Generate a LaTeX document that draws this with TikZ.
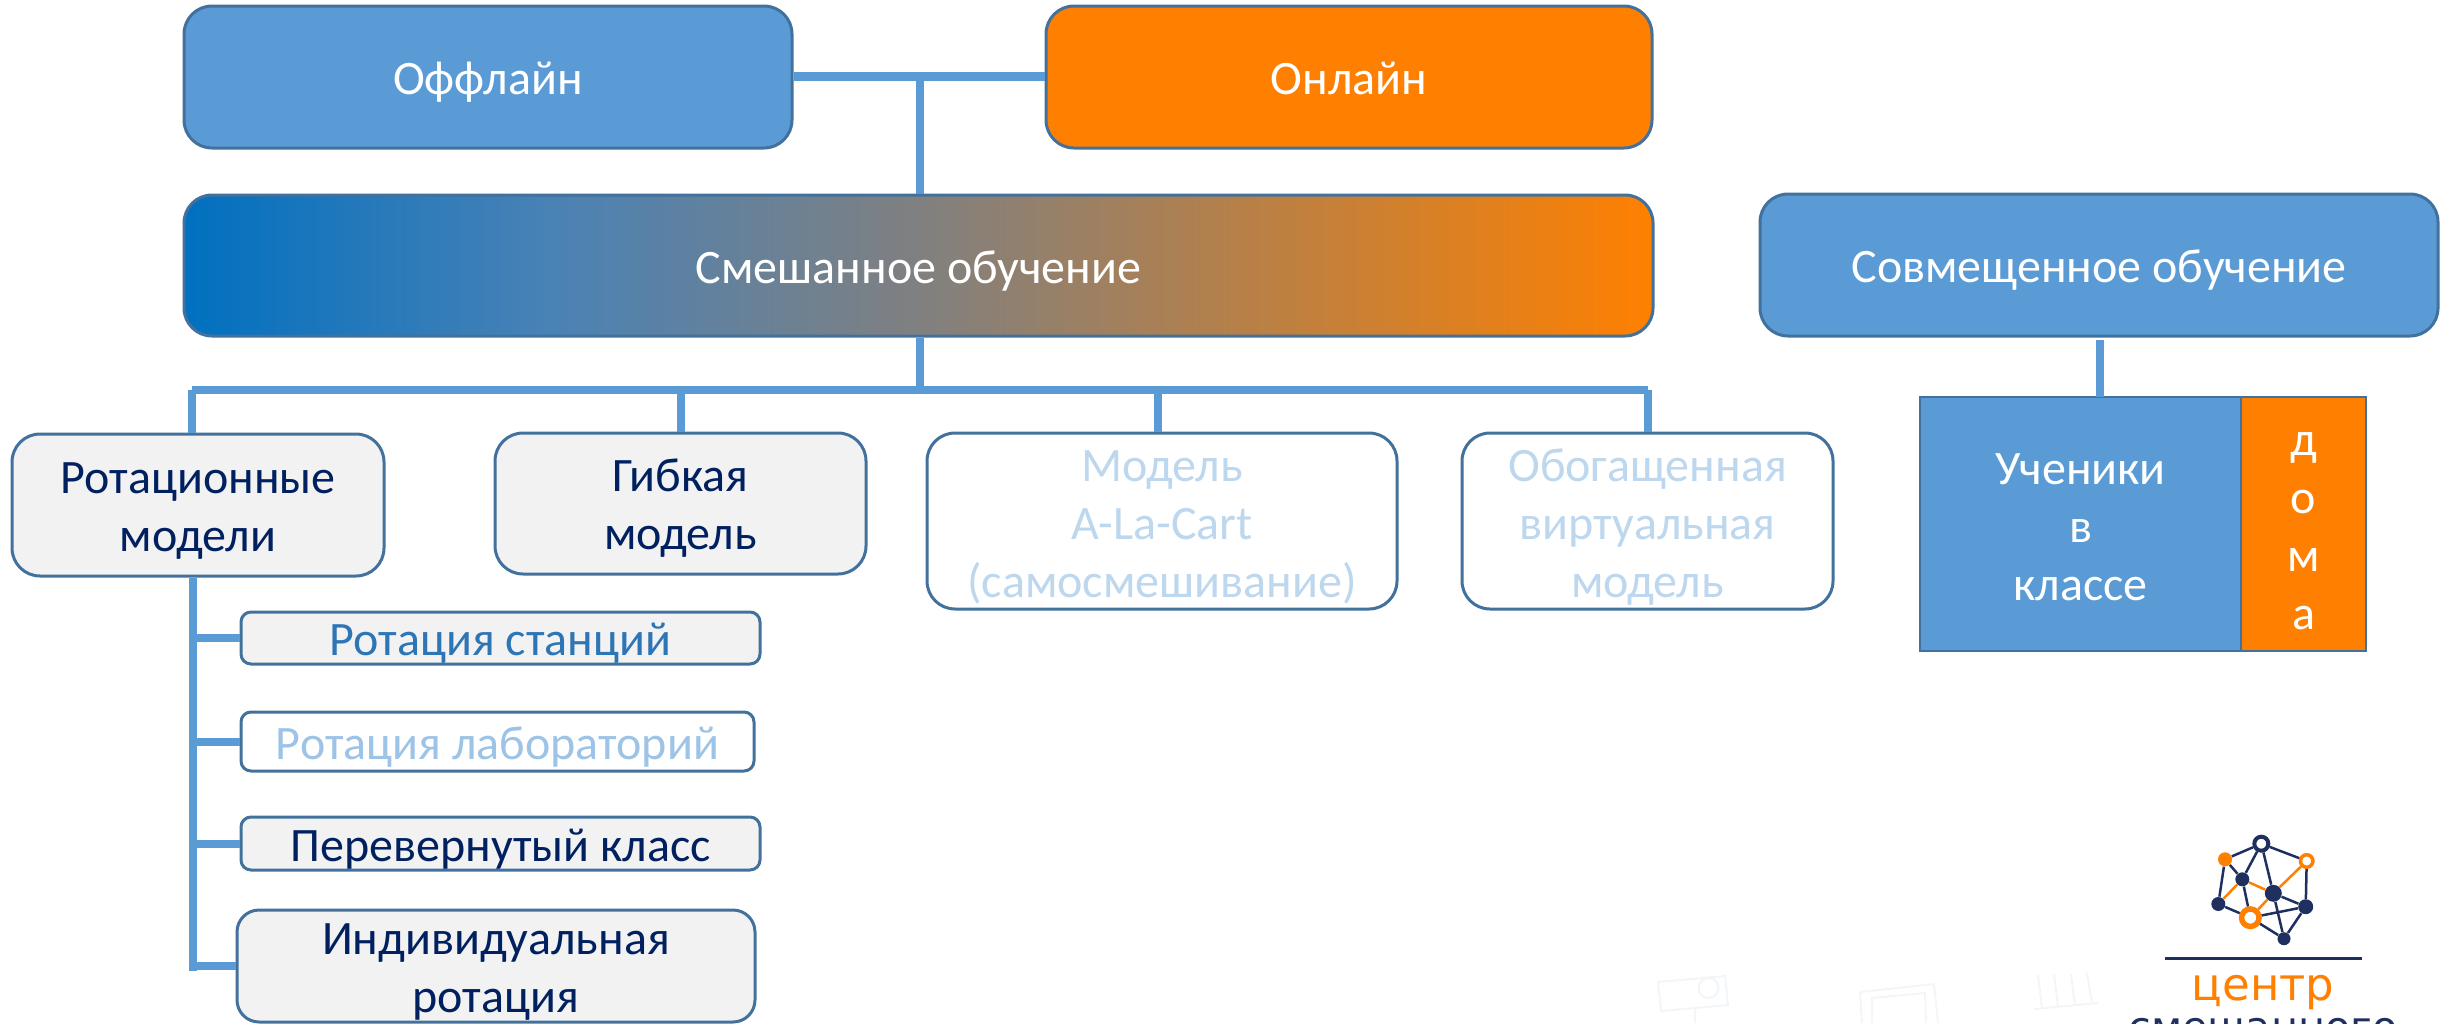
\documentclass[tikz,border=0pt]{standalone}
\usepackage{fontspec}
\setmainfont{Carlito}
\newfontfamily\logofont{DejaVu Sans}
\usetikzlibrary{positioning}
\definecolor{boxblue}{HTML}{5B9BD5}
\definecolor{boxedge}{HTML}{41719C}
\definecolor{boxorange}{HTML}{FF8000}
\definecolor{gradblue}{HTML}{0070C0}
\definecolor{gradone}{HTML}{4A82B5}
\definecolor{gradtwo}{HTML}{808080}
\definecolor{gradthree}{HTML}{BE8040}
\definecolor{boxgray}{HTML}{F2F2F2}
\definecolor{textmid}{HTML}{2E75B6}
\definecolor{textpale}{HTML}{9DC3E6}
\definecolor{textfaint}{HTML}{BDD7EE}
\definecolor{textnavy}{HTML}{002060}
\definecolor{logonavy}{HTML}{1F2F5F}
\definecolor{sketchline}{HTML}{F3F6F9}
\pgfdeclarehorizontalshading{blendshade}{100bp}{color(0bp)=(gradblue);color(25bp)=(gradblue);color(37.5bp)=(gradone);color(50bp)=(gradtwo);color(62.5bp)=(gradthree);color(75bp)=(boxorange);color(100bp)=(boxorange)}
\begin{document}
\begin{tikzpicture}[x=0.5pt,y=-0.5pt,
	wh/.style 2 args={minimum width=#1*0.5pt,minimum height=#2*0.5pt},
	textat/.style={text height=#1pt,text depth=0pt},
	boxtext/.style={inner sep=0pt,align=center,font=\fontsize{24}{29}\selectfont,textat=17.5},
	twolines/.style={textat=46},
	threelines/.style={textat=76},
	fourlines/.style={textat=105},
	box/.style={draw=boxedge,line width=1.5pt,rounded corners=14pt,boxtext},
	solidbox/.style={box,fill=boxblue,text=white},
	grayboxed/.style={box,fill=boxgray,text=textnavy},
	whiteboxed/.style={box,fill=white,text=textfaint},
	smallbox/.style={rounded corners=5pt},
	square/.style={draw=boxedge,line width=1pt,outer sep=0pt,text=white,boxtext},
	link/.style={draw=boxblue,line width=4pt},
	toplink/.style={draw=boxblue,line width=4.5pt},
	dot/.style={circle,inner sep=0pt,minimum size=#1*0.5pt},
	navydot/.style={dot=#1,fill=logonavy},
	orangedot/.style={dot=#1,fill=boxorange},
	logoedge/.style={draw=logonavy,line width=1.25pt},
	logoorange/.style={draw=boxorange,line width=1.25pt},
	logotext/.style={anchor=base,inner sep=0pt,font=\logofont\fontsize{#1}{#1}\selectfont},
	sketch/.style={draw=sketchline,line width=1pt}]
	\clip (0,0) rectangle (2440,1023);
	% faint sketches
	\draw[sketch] (1658,982) -- (1725,976) -- (1728,1005) -- (1661,1011) -- cycle (1708.5,988) circle (10) (1695,1008) -- (1695,1023);
	\draw[sketch] (1860,992) -- (1934,984) -- (1938,1023) (1860,992) -- (1862,1023) (1872,1023) -- (1872,998) -- (1925,993) -- (1926,1023);
	\draw[sketch] (2034,1009) -- (2098,1003) (2038,975) -- (2042,1008) (2054,974) -- (2058,1007) (2071,974) -- (2075,1006) (2087,973) -- (2092,1004);
	% top row
	\node[solidbox,wh={608}{142}] (offline) at (488,77) {Оффлайн};
	\node[box,fill=boxorange,text=white,wh={606}{142}] (online) at (1349,77) {Онлайн};
	\node[box,shade,shading=blendshade,text=white,wh={1469}{141}] (mixed) at (918.5,265.5) {Смешанное обучение};
	\node[solidbox,wh={678}{142}] (combined) at (2099,265) {Совмещенное обучение};
	% four models
	\node[grayboxed,twolines,wh={372}{142}] (rotation) at (198,505) {Ротационные\\модели};
	\node[grayboxed,twolines,wh={371}{141}] (flex) at (680.5,503.5) {Гибкая\\модель};
	\node[whiteboxed,threelines,wh={470}{176}] (alacart) at (1162,521) {Модель\\A-La-Cart\\(самосмешивание)};
	\node[whiteboxed,threelines,wh={371}{176}] (virtual) at (1647.5,521) {Обогащенная\\виртуальная\\модель};
	% rotation types
	\node[grayboxed,smallbox,text=textmid,wh={519}{52}] (station) at (500.5,638) {Ротация станций};
	\node[box,smallbox,fill=white,text=textpale,wh={513}{59}] (lab) at (497.5,741.5) {Ротация лабораторий};
	\node[grayboxed,smallbox,wh={519}{53}] (flipped) at (500.5,843.5) {Перевернутый класс};
	\node[grayboxed,twolines,rounded corners=11pt,wh={518}{112}] (individual) at (496,966) {Индивидуальная\\ротация};
	% pupils
	\node[square,threelines,fill=boxblue,wh={321}{254}] (pupils) at (2080.5,524) {Ученики\\в\\классе};
	\node[square,fourlines,fill=boxorange,wh={125}{254},right=0pt of pupils] (home) {д\\о\\м\\а};
	% connectors
	\coordinate (toptee) at (920,76.5);
	\coordinate (barmid) at (920,389.5);
	\coordinate (barleft) at (192,389.5);
	\coordinate (barright) at (1648,389.5);
	\coordinate (cartdrop) at (1157.5,389.5);
	\coordinate (trunk) at (192.5,971);
	\coordinate (combinedfoot) at (2100,340);
	\draw[toplink] (offline.east |- toptee) -- (online.west |- toptee);
	\draw[link] (toptee) -- (toptee |- mixed.north);
	\draw[link] (barmid |- mixed.south) -- (barmid);
	\draw[link] (barleft) -- (barright);
	\draw[link] (barleft) -- (barleft |- rotation.north);
	\draw[link] (barleft -| flex.north) -- (flex.north);
	\draw[link] (cartdrop) -- (cartdrop |- alacart.north);
	\draw[link] (barright) -- (barright |- virtual.north);
	\draw[link] (trunk |- rotation.south) -- (trunk);
	\draw[link] (trunk |- station.west) -- (station.west);
	\draw[link] (trunk |- lab.west) -- (lab.west);
	\draw[link] (trunk |- flipped.west) -- (flipped.west);
	\draw[link] (trunk |- individual.west) -- (individual.west);
	\draw[link] (combinedfoot) -- (combinedfoot |- pupils.north);
	% logo
	\node[dot=14,draw=logonavy,line width=2pt,fill=white] (lgtop) at (2261.3,843.7) {};
	\node[orangedot=14] (lgleft) at (2225,859.3) {};
	\node[dot=12.5,draw=boxorange,line width=1.75pt,fill=white] (lgright) at (2306.7,861) {};
	\node[navydot=14] (lgone) at (2242.3,879.3) {};
	\node[navydot=17] (lgtwo) at (2273.3,893.3) {};
	\node[navydot=14] (lgthree) at (2218.3,904) {};
	\node[navydot=15] (lgfour) at (2305.7,906.7) {};
	\node[dot=17.5,draw=boxorange,line width=2.75pt,fill=white] (lgring) at (2250.3,917.7) {};
	\node[navydot=13] (lgfoot) at (2284,938.7) {};
	\draw[logoedge] (lgtop) -- (lgleft) (lgtop) -- (lgone) (lgtop) -- (lgtwo) (lgtop) -- (lgright)
		(lgleft) -- (lgone) (lgleft) -- (lgthree) (lgright) -- (lgfour) (lgtwo) -- (lgfour)
		(lgone) -- (lgring) (lgthree) -- (lgring) (lgring) -- (lgfour) (lgring) -- (lgfoot)
		(lgtwo) -- (lgfoot) (lgfour) -- (lgfoot);
	\draw[logoorange] (lgthree) -- (lgone) (lgone) -- (lgtwo) (lgring) -- (lgtwo) (lgtwo) -- (lgright);
	\coordinate (rulestart) at (2165,958.3);
	\coordinate (ruleend) at (2361.7,958.3);
	\draw[logoedge] (rulestart) -- (ruleend);
	\node[logotext=22.5,text=boxorange] (centre) at (2263,1000) {центр};
	\node[logotext=20.7,text=logonavy] (blended) at (2263,1041) {смешанного};
\end{tikzpicture}
\end{document}
